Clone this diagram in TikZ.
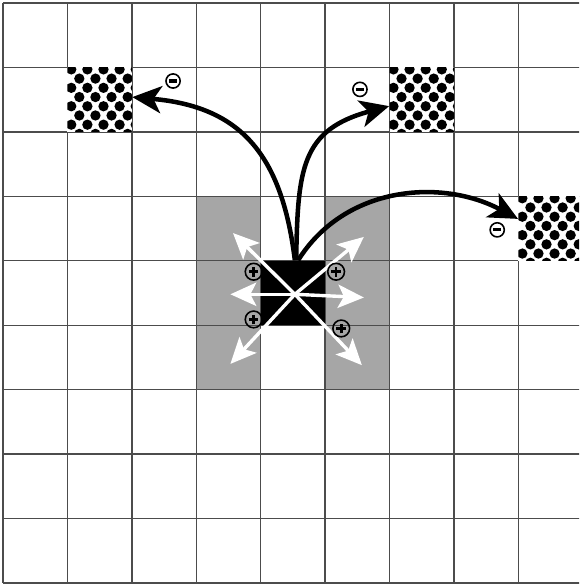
\documentclass[tikz,border=0pt]{standalone}
\usetikzlibrary{arrows.meta, positioning, calc}

\begin{document}
\begin{tikzpicture}[
        gridline/.style={draw=black!70, line width=0.6pt},
        zone/.style={fill=black!35},
        source/.style={rectangle, fill=black, minimum size=1cm, inner sep=0pt},
        target/.style={rectangle, fill=white, minimum size=1cm, inner sep=0pt, path picture={
            \foreach \row in {0,...,7} \foreach \col in {0,...,4} {
                \fill[black] ($(path picture bounding box.north west)+({\col*0.25+mod(\row,2)*0.125+0.06},{-\row*0.143-0.03})$) circle (0.08);
            }}},
        jump/.style={-{Stealth[length=0.45cm, width=0.42cm, inset=0.12cm]}, line width=2pt},
        spread/.style={-{Stealth[length=0.4cm, width=0.36cm, inset=0.09cm]}, draw=white, line width=1.5pt},
        plussign/.style={circle, draw=black, line width=0.7pt, minimum size=0.26cm, inner sep=0pt, path picture={
            \draw[line width=1.1pt] ([xshift=-0.075cm]path picture bounding box.center) -- ([xshift=0.075cm]path picture bounding box.center)
                ([yshift=-0.075cm]path picture bounding box.center) -- ([yshift=0.075cm]path picture bounding box.center);}},
        minussign/.style={circle, draw=black, line width=0.7pt, minimum size=0.22cm, inner sep=0pt, path picture={
            \draw[line width=1.4pt] ([xshift=-0.065cm]path picture bounding box.center) -- ([xshift=0.065cm]path picture bounding box.center);}}
    ]
        \useasboundingbox (-0.046,0.047) rectangle (8.94,-9.047);
        \clip (-0.046,0.047) rectangle (8.94,-9.047);

        % grey zone and grid
        \fill[zone] (3,-3) rectangle (4,-6);
        \fill[zone] (5,-3) rectangle (6,-6);
        \draw[gridline] (0,0) grid (9,-9);

        \node[source] (src) at (4.5,-4.5) {};
        \node[target] (t1) at (1.5,-1.5) {};
        \node[target] (t2) at (6.5,-1.5) {};
        \node[target] (t3) at (8.5,-3.5) {};

        % white spreading arrows
        \coordinate (c) at (4.53,-4.52);
        \coordinate (ul) at (3.57,-3.57);
        \coordinate (ur) at (5.6,-3.63);
        \coordinate (l) at (3.53,-4.52);
        \coordinate (r) at (5.6,-4.57);
        \coordinate (ll) at (3.53,-5.6);
        \coordinate (lr) at (5.57,-5.62);
        \foreach \tip in {ul,ur,l,r,ll,lr}
            \draw[spread] (c) -- (\tip);

        % jumps to the targets
        \draw[jump] ([xshift=0.3mm]src.north) to[out=97, in=-5, looseness=1.2] ([yshift=0.4mm]t1.east);
        \draw[jump] ([xshift=0.5mm]src.north) to[out=89, in=-165, looseness=1.3] ([yshift=-1mm]t2.west);
        \draw[jump] ([xshift=0.8mm]src.north) to[out=58, in=152] ([yshift=1.5mm]t3.west);

        \node[plussign] (p1) at (3.89,-4.17) {};
        \node[plussign] (p2) at (5.17,-4.17) {};
        \node[plussign] (p3) at (3.89,-4.91) {};
        \node[plussign] (p4) at (5.25,-5.05) {};

        \node[minussign] (m1) at (2.64,-1.21) {};
        \node[minussign] (m2) at (5.54,-1.34) {};
        \node[minussign] (m3) at (7.67,-3.52) {};
    \end{tikzpicture}
\end{document}
